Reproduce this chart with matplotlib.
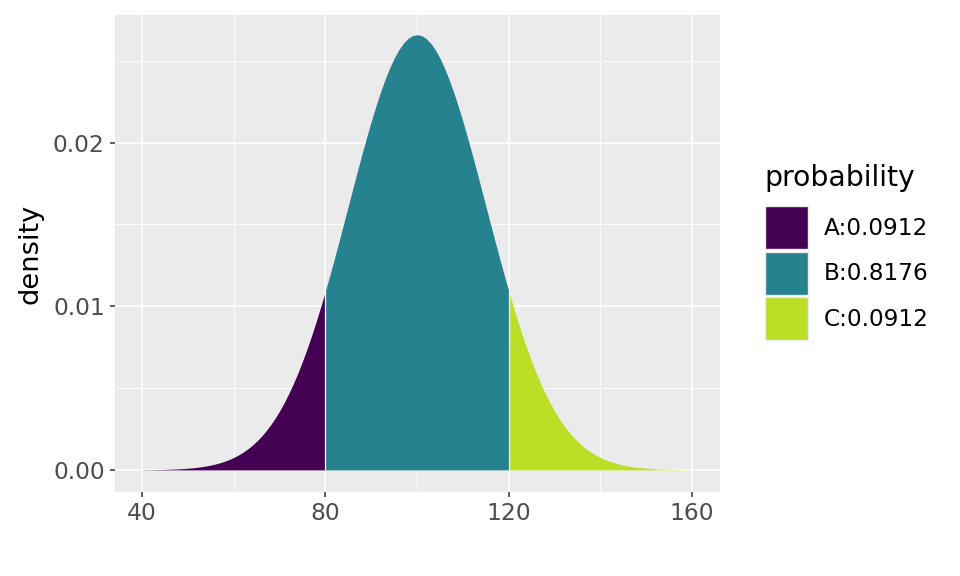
import numpy as np
import matplotlib.pyplot as plt
from matplotlib.patches import Patch

# density values, one per unit from 40 to 160 (curve is symmetric about 100)
x_vals = np.arange(40, 161, 1)
left_half = [
    0.0000089, 0.0000116, 0.0000151, 0.0000194, 0.0000250, 0.0000320, 0.0000408,
    0.0000518, 0.0000653, 0.0000822, 0.0001030, 0.0001280, 0.0001590, 0.0001960,
    0.0002410, 0.0002950, 0.0003600, 0.0004370, 0.0005280, 0.0006350, 0.0007600,
    0.0009060, 0.0010740, 0.0012700, 0.0014930, 0.0017480, 0.0020380, 0.0023650,
    0.0027330, 0.0031430, 0.0035990, 0.0041040, 0.0046580, 0.0052630, 0.0059210,
    0.0066320, 0.0073950, 0.0082090, 0.0090720, 0.0099820, 0.0109340, 0.0119240,
    0.0129460, 0.0139930, 0.0150570, 0.0161310, 0.0172050, 0.0182690, 0.0193130,
    0.0203250, 0.0212960, 0.0222150, 0.0230700, 0.0238520, 0.0245510, 0.0251590,
    0.0256670, 0.0260690, 0.0263610, 0.0265370,
]
density = np.array(left_half + [0.0265960] + left_half[::-1])

cuts = [80, 120]
labels = ['A:0.0912', 'B:0.8176', 'C:0.0912']
colors = ['#440154', '#26828E', '#BBDF27']

x_ticks = [40, 80, 120, 160]
y_ticks = [0.00, 0.01, 0.02]
y_tick_labels = ['0.00', '0.01', '0.02']

fig = plt.figure(figsize=(9.6, 5.76), dpi=100)
ax = fig.add_axes([115 / 960, 1 - 492 / 576, 605 / 960, 477 / 576])
ax.set_facecolor('#EBEBEB')

# grid
for v in [60, 100, 140]:
    ax.axvline(v, color='white', lw=0.6, zorder=0)
for v in [0.005, 0.015, 0.025]:
    ax.axhline(v, color='white', lw=0.6, zorder=0)
for v in x_ticks:
    ax.axvline(v, color='white', lw=1.2, zorder=0)
for v in y_ticks:
    ax.axhline(v, color='white', lw=1.2, zorder=0)

# regions
bounds = [x_vals.min()] + cuts + [x_vals.max()]
for i in range(3):
    m = (x_vals >= bounds[i]) & (x_vals <= bounds[i + 1])
    ax.fill_between(x_vals[m], 0, density[m], color=colors[i], lw=0, zorder=2)
for c in cuts:
    ax.vlines(c, 0, density[x_vals == c][0], color='white', lw=0.9, zorder=3)

ax.set_xlim(34.1, 166.1)
ax.set_ylim(-0.00135, 0.0278)
ax.set_xticks(x_ticks)
ax.set_xticklabels([str(v) for v in x_ticks])
ax.set_yticks(y_ticks)
ax.set_yticklabels(y_tick_labels)
ax.tick_params(axis='both', length=3.8, width=1.1, color='#333333',
               labelcolor='#4D4D4D', labelsize=16.8, pad=3.5)
for s in ax.spines.values():
    s.set_visible(False)
ax.set_ylabel('density', fontsize=19.6, color='black', labelpad=7)

# legend: title as separate text so the gap above the keys matches
fig.text(764 / 960, 1 - 178 / 576, 'probability', fontsize=20.3,
         ha='left', va='center')
handles = [Patch(facecolor=c, edgecolor='#EBEBEB', lw=1.0) for c in colors]
leg = fig.legend(handles, labels, loc='upper left',
                 bbox_to_anchor=(765 / 960, 1 - 206 / 576), frameon=False,
                 fontsize=16.7, handlelength=1.85,
                 handleheight=2.47, labelspacing=0.12, handletextpad=0.69,
                 borderaxespad=0, borderpad=0)

fig.savefig('out.png', dpi=100)
